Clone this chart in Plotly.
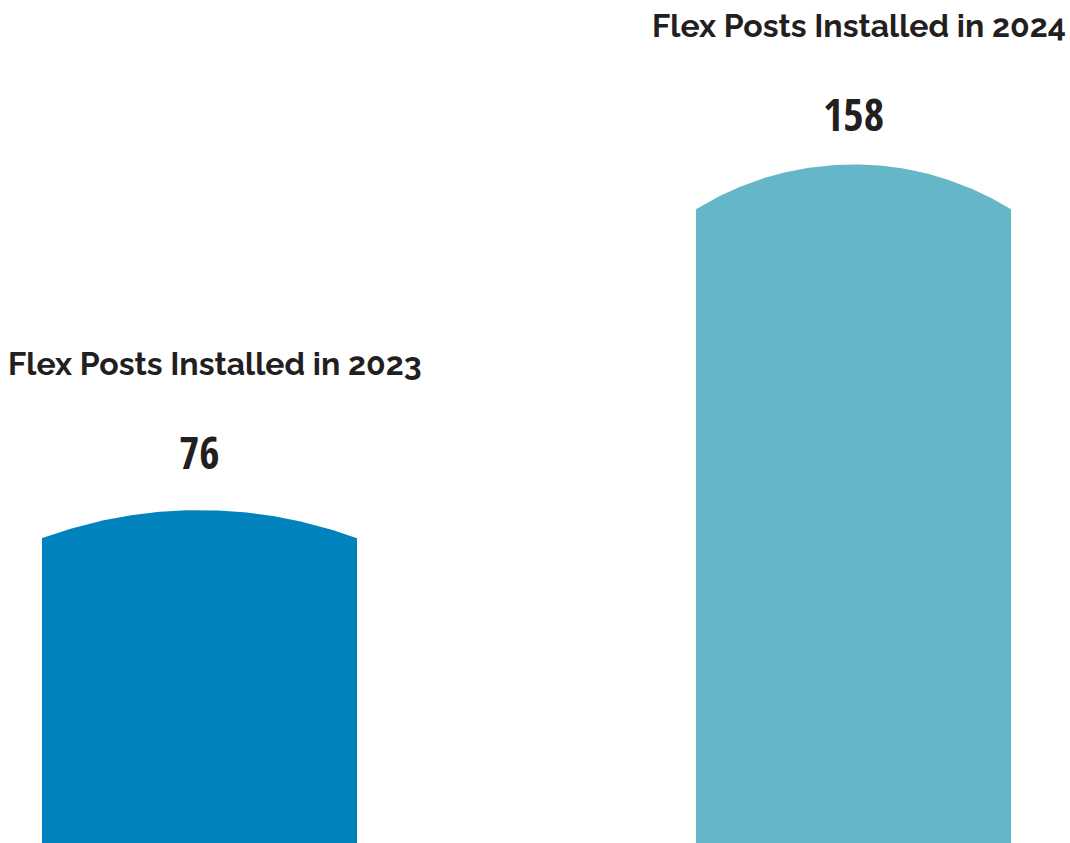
import numpy as np
import plotly.graph_objects as go

# Flex posts installed per year
years = ["2023", "2024"]
installed = [76, 158]
titles = [f"Flex Posts Installed in {y}" for y in years]

# styling
colors = ["#0083BD", "#66B6C9"]
dome_rise = [7.0, 11.2]   # height of the rounded cap, in post units
label_lift = [86, 95]     # px from the bar shoulder to the value label
title_gap = 89            # px from value label to heading
title_nudge = [16, 5]     # horizontal px offset of each heading

W, H = 1070, 843
x_pos = [0, 1]
bar_w = 0.4817
x_range = [-0.305, 1.331]
y_range = [0, 210.2]

sx = W / (x_range[1] - x_range[0])
sy = H / (y_range[1] - y_range[0])

fig = go.Figure()

for xc, val, rise, col in zip(x_pos, installed, dome_rise, colors):
    a = bar_w / 2 * sx          # half width in px
    s = rise * sy               # cap height in px
    R = (a * a + s * s) / (2 * s)
    t = np.linspace(-a, a, 121)
    cap = np.sqrt(R * R - t * t) - (R - s)
    xs = np.concatenate([[xc - bar_w / 2], xc + t / sx, [xc + bar_w / 2]])
    ys = np.concatenate([[0], val + cap / sy, [0]])
    fig.add_trace(go.Scatter(
        x=xs, y=ys, mode="lines", fill="toself", fillcolor=col,
        line=dict(width=0, color=col), hoverinfo="skip", showlegend=False,
    ))

for xc, val, lift, nudge, ttl in zip(x_pos, installed, label_lift, title_nudge, titles):
    fig.add_annotation(
        x=xc, y=val, text=str(val), showarrow=False,
        yanchor="middle", xanchor="center", yshift=lift,
        font=dict(family="Open Sans Condensed, Roboto Condensed, sans-serif",
                  size=44, color="#231F20", weight="bold"),
    )
    fig.add_annotation(
        x=xc, y=val, text=ttl, showarrow=False,
        yanchor="middle", xanchor="center", yshift=lift + title_gap, xshift=nudge,
        font=dict(family="Raleway, Lato, sans-serif", size=32, color="#231F20", weight="bold"),
    )

fig.update_layout(
    width=W, height=H,
    margin=dict(l=0, r=0, t=0, b=0),
    paper_bgcolor="white", plot_bgcolor="white",
    xaxis=dict(range=x_range, visible=False, fixedrange=True),
    yaxis=dict(range=y_range, visible=False, fixedrange=True),
)

fig.write_html("out.html")
